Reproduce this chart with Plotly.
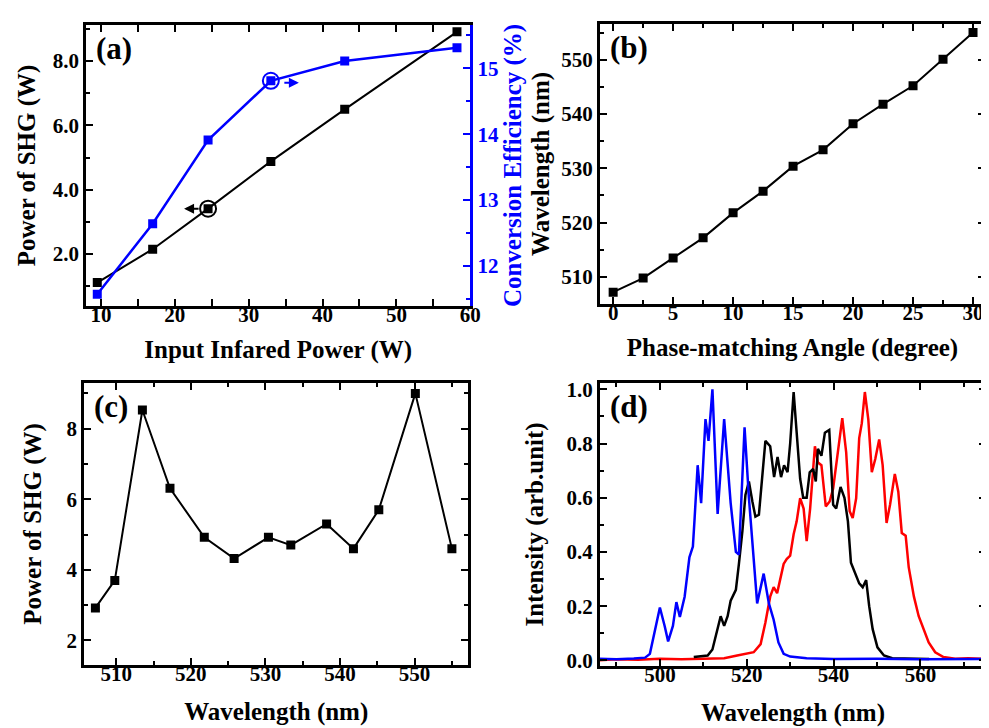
import plotly.graph_objects as go

# ---------------- data ----------------
# (a)
input_power = [9.5, 17.0, 24.5, 33.0, 43.0, 58.2]
shg_power_a = [1.11, 2.15, 3.41, 4.88, 6.50, 8.91]
conv_eff = [11.57, 12.64, 13.91, 14.81, 15.11, 15.31]

# (b)
pm_angle = [0, 2.5, 5, 7.5, 10, 12.5, 15, 17.5, 20, 22.5, 25, 27.5, 30]
wl_b = [507.2, 509.8, 513.5, 517.2, 521.8, 525.8, 530.4, 533.4, 538.2, 541.8, 545.2, 550.1, 555.0]

# (c)
wl_c = [507.2, 509.8, 513.5, 517.2, 521.8, 525.8, 530.4, 533.4, 538.2, 541.8, 545.2, 550.1, 555.0]
shg_power_c = [2.92, 3.70, 8.53, 6.31, 4.92, 4.32, 4.92, 4.70, 5.30, 4.60, 5.70, 9.00, 4.60]

# (d) spectra
blue_wl = [486.0, 490.0, 494.0, 496.6, 497.7, 498.9, 500.0, 501.1, 501.9, 503.0, 503.8, 504.6,
           505.7, 506.8, 507.6, 508.0, 508.7, 509.5, 510.5, 511.2, 512.1, 513.3, 514.8, 516.3,
           517.5, 518.2, 519.5, 520.5, 521.6, 522.4, 523.9, 525.1, 526.2, 527.3, 528.5, 530.0,
           533.8, 540.0, 550.0, 560.0, 575.0]
blue_int = [0.006, 0.004, 0.007, 0.010, 0.024, 0.115, 0.195, 0.127, 0.070, 0.127, 0.215, 0.160,
            0.235, 0.380, 0.420, 0.525, 0.720, 0.580, 0.890, 0.810, 1.000, 0.540, 0.890, 0.580,
            0.400, 0.390, 0.860, 0.600, 0.380, 0.210, 0.320, 0.210, 0.150, 0.066, 0.024, 0.014,
            0.008, 0.005, 0.006, 0.004, 0.005]

black_wl = [507.8, 511.0, 512.1, 513.3, 514.0, 514.8, 515.6, 516.3, 517.5, 518.2, 519.0, 519.7,
            520.5, 521.3, 522.0, 522.8, 523.5, 524.3, 525.4, 526.3, 527.1, 527.9, 528.6, 529.4,
            530.0, 530.8, 531.5, 532.3, 533.0, 533.8, 534.5, 535.3, 535.9, 536.4, 537.2, 538.0,
            539.0, 539.9, 540.6, 541.6, 542.5, 543.3, 544.0, 544.8, 545.9, 546.7, 547.5, 548.2,
            549.0, 550.1, 551.6, 553.5, 557.3, 562.0]
black_int = [0.012, 0.018, 0.040, 0.115, 0.163, 0.127, 0.163, 0.220, 0.260, 0.356, 0.477, 0.610,
             0.660, 0.586, 0.530, 0.537, 0.680, 0.810, 0.790, 0.676, 0.750, 0.676, 0.720, 0.694,
             0.800, 0.990, 0.840, 0.670, 0.600, 0.600, 0.694, 0.706, 0.660, 0.780, 0.755, 0.840,
             0.850, 0.574, 0.560, 0.640, 0.600, 0.513, 0.360, 0.326, 0.284, 0.270, 0.296, 0.200,
             0.115, 0.048, 0.018, 0.008, 0.006, 0.005]

red_wl = [486.0, 490.0, 495.0, 500.0, 505.0, 510.0, 514.8, 517.8, 520.1, 521.6, 523.2, 524.3,
          525.4, 526.2, 527.0, 527.7, 528.5, 529.2, 530.0, 530.8, 531.5, 532.3, 533.1, 533.8,
          534.6, 535.3, 535.7, 536.4, 537.2, 538.2, 539.1, 539.9, 541.0, 542.0, 542.9, 543.7,
          544.4, 545.2, 545.9, 546.5, 547.2, 548.0, 548.8, 549.6, 550.5, 551.3, 552.2, 553.0,
          554.1, 554.9, 555.7, 556.6, 557.3, 558.5, 559.6, 560.7, 561.9, 563.4, 565.3, 568.0,
          571.0, 575.0]
red_int = [0.000, 0.004, 0.002, 0.006, 0.004, 0.006, 0.008, 0.018, 0.024, 0.030, 0.060, 0.140,
           0.235, 0.270, 0.248, 0.296, 0.356, 0.374, 0.386, 0.465, 0.513, 0.598, 0.560, 0.440,
           0.560, 0.706, 0.790, 0.730, 0.720, 0.568, 0.586, 0.634, 0.780, 0.894, 0.767, 0.550,
           0.525, 0.598, 0.820, 0.875, 0.990, 0.888, 0.694, 0.743, 0.815, 0.720, 0.507, 0.574,
           0.688, 0.622, 0.470, 0.460, 0.344, 0.235, 0.163, 0.115, 0.066, 0.030, 0.012, 0.006,
           0.008, 0.005]

# ---------------- styling ----------------
FONT = "Liberation Serif, Times New Roman, serif"
BLUE = "#0000ff"
TICKF = dict(family=FONT, size=21, color="black", weight="bold")
TITLEF = dict(family=FONT, size=25, color="black", weight="bold")

W, H = 989, 728


def dom_x(a, b):
    return [a / W, b / W]


def dom_y(top, bottom):
    return [1 - bottom / H, 1 - top / H]


def minor(dt, color="black"):
    return dict(ticks="inside", ticklen=4, tickwidth=2, tickcolor=color, dtick=dt)


def axis(**kw):
    base = dict(
        showline=True, linecolor="black", linewidth=3, mirror="allticks",
        ticks="inside", ticklen=7, tickwidth=2, tickcolor="black",
        showgrid=False, zeroline=False, tickfont=TICKF,
    )
    base.update(kw)
    return base


fig = go.Figure()

mk = dict(symbol="square", size=9, color="black")
# (a)
fig.add_trace(go.Scatter(x=input_power, y=shg_power_a, mode="lines+markers",
                         line=dict(color="black", width=2), marker=mk,
                         xaxis="x", yaxis="y", showlegend=False))
fig.add_trace(go.Scatter(x=input_power, y=conv_eff, mode="lines+markers",
                         line=dict(color=BLUE, width=2.5),
                         marker=dict(symbol="square", size=9, color=BLUE),
                         xaxis="x", yaxis="y2", showlegend=False))
# (b)
fig.add_trace(go.Scatter(x=pm_angle, y=wl_b, mode="lines+markers",
                         line=dict(color="black", width=2), marker=mk,
                         xaxis="x2", yaxis="y3", showlegend=False))
# (c)
fig.add_trace(go.Scatter(x=wl_c, y=shg_power_c, mode="lines+markers",
                         line=dict(color="black", width=2), marker=mk,
                         xaxis="x3", yaxis="y4", showlegend=False))
# (d)
fig.add_trace(go.Scatter(x=red_wl, y=red_int, mode="lines",
                         line=dict(color="#ff0000", width=2.5),
                         xaxis="x4", yaxis="y5", showlegend=False))
fig.add_trace(go.Scatter(x=black_wl, y=black_int, mode="lines",
                         line=dict(color="black", width=2.5),
                         xaxis="x4", yaxis="y5", showlegend=False))
fig.add_trace(go.Scatter(x=blue_wl, y=blue_int, mode="lines",
                         line=dict(color=BLUE, width=2.5),
                         xaxis="x4", yaxis="y5", showlegend=False))

XLS = -12  # pull x tick labels closer to axis

fig.update_layout(
    width=W, height=H, paper_bgcolor="white", plot_bgcolor="white",
    margin=dict(l=0, r=0, t=0, b=0),
    font=dict(family=FONT, color="black"),
    # (a)
    xaxis=axis(domain=dom_x(79, 467), range=[8, 60], dtick=10, tick0=0, minor=minor(5),
               ticklabelstandoff=XLS, anchor="y",
               title=dict(text="Input Infared Power (W)", font=TITLEF, standoff=15)),
    yaxis=axis(domain=dom_y(12, 298), range=[0.38, 9.13], dtick=2, tick0=0, tickformat=".1f",
               mirror=False, anchor="x", minor=minor(1),
               title=dict(text="Power of SHG (W)", font=TITLEF, standoff=10)),
    yaxis2=axis(overlaying="y", side="right", anchor="x", range=[11.39, 15.66], dtick=1,
                tick0=0, mirror=False, linecolor=BLUE, tickcolor=BLUE, minor=minor(0.5, BLUE),
                tickfont=dict(family=FONT, size=21, color=BLUE, weight="bold"),
                title=dict(text="Conversion Efficiency (%)",
                           font=dict(family=FONT, size=25, color=BLUE, weight="bold"),
                           standoff=2)),
    # (b)
    xaxis2=axis(domain=dom_x(598, 987), range=[-1.1, 31], dtick=5, tick0=0, minor=minor(2.5),
                ticklabelstandoff=XLS, anchor="y3",
                title=dict(text="Phase-matching Angle (degree)", font=TITLEF, standoff=15)),
    yaxis3=axis(domain=dom_y(11, 296), range=[505, 556.6], dtick=10, tick0=0, anchor="x2",
                minor=minor(5),
                title=dict(text="Wavelength (nm)", font=TITLEF, standoff=5)),
    # (c)
    xaxis3=axis(domain=dom_x(77, 465), range=[505.7, 557.2], dtick=10, tick0=0, minor=minor(5),
                ticklabelstandoff=XLS, anchor="y4",
                title=dict(text="Wavelength (nm)", font=TITLEF, standoff=18)),
    yaxis4=axis(domain=dom_y(376, 663), range=[1.3, 9.3], dtick=2, tick0=0, anchor="x3",
                minor=minor(1),
                title=dict(text="Power of SHG (W)", font=TITLEF, standoff=18)),
    # (d)
    xaxis4=axis(domain=dom_x(598, 988), range=[486.2, 575.1], dtick=20, tick0=0,
                minor=minor(10), ticklabelstandoff=XLS,
                anchor="y5", title=dict(text="Wavelength (nm)", font=TITLEF, standoff=18)),
    yaxis5=axis(domain=dom_y(376, 664), range=[-0.021, 1.024], dtick=0.2, tick0=0,
                tickformat=".1f", anchor="x4", minor=minor(0.1),
                title=dict(text="Intensity (arb.unit)", font=TITLEF, standoff=16)),
)

# panel labels
PL = dict(family=FONT, size=31, color="black", weight="bold")
for txt, xr, yr in [("(a)", "x domain", "y domain"), ("(b)", "x2 domain", "y3 domain"),
                    ("(c)", "x3 domain", "y4 domain"), ("(d)", "x4 domain", "y5 domain")]:
    fig.add_annotation(text=txt, xref=xr, yref=yr, x=0.02, y=0.985, xanchor="left",
                       yanchor="top", showarrow=False, font=PL)

# circle + arrow markers in (a)
fig.add_shape(type="circle", xref="x", yref="y", xsizemode="pixel", ysizemode="pixel",
              xanchor=input_power[2], yanchor=shg_power_a[2], x0=-8, x1=8, y0=-8, y1=8,
              line=dict(color="black", width=2))
fig.add_shape(type="circle", xref="x", yref="y2", xsizemode="pixel", ysizemode="pixel",
              xanchor=input_power[3], yanchor=conv_eff[3], x0=-8, x1=8, y0=-8, y1=8,
              line=dict(color=BLUE, width=2))
fig.add_annotation(x=input_power[2], y=shg_power_a[2], xref="x", yref="y", text="",
                   showarrow=True, arrowhead=2, arrowsize=1, arrowwidth=2, arrowcolor="black",
                   ax=16, ay=0, xshift=-24)
fig.add_annotation(x=input_power[3], y=conv_eff[3], xref="x", yref="y2", text="",
                   showarrow=True, arrowhead=2, arrowsize=1, arrowwidth=2, arrowcolor=BLUE,
                   ax=-16, ay=0, xshift=28, yshift=-2)

fig.write_html("out.html")
